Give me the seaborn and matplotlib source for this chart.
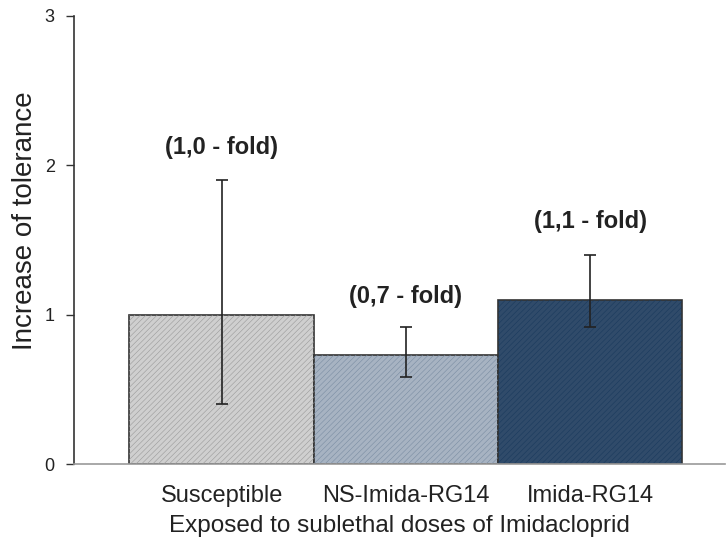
import numpy as np
import pandas as pd
import matplotlib.pyplot as plt
import seaborn as sns

groups = ["Susceptible", "NS-Imida-RG14", "Imida-RG14"]
tolerance = [1.0, 0.73, 1.10]
err_low = [0.40, 0.58, 0.92]
err_high = [1.90, 0.92, 1.40]
fold_labels = ["(1,0 - fold)", "(0,7 - fold)", "(1,1 - fold)"]
label_y = [2.12, 1.12, 1.62]
bar_colors = ["#cfcfcf", "#a3b3c6", "#264b74"]
hatch_colors = ["#9a9a9a", "#7a8da3", "#1a3a5e"]

sns.set_style("white")
plt.rcParams["font.family"] = ["Liberation Sans", "DejaVu Sans"]
plt.rcParams["hatch.linewidth"] = 0.4

df = pd.DataFrame({"group": groups, "tolerance": tolerance})

fig = plt.figure(figsize=(7.27, 5.44), dpi=100)
ax = fig.add_axes([0.102, 0.147, 0.895, 0.824])

sns.barplot(data=df, x="group", y="tolerance", hue="group", palette=bar_colors,
            width=1.0, edgecolor="#333333", linewidth=1.2, legend=False, ax=ax)

# fine diagonal texture on top of each bar
for patch, hc in zip(ax.patches, hatch_colors):
    x, y = patch.get_xy()
    ax.add_patch(plt.Rectangle((x, y), patch.get_width(), patch.get_height(),
                               fill=False, hatch="//////", edgecolor=hc,
                               linewidth=0, zorder=patch.get_zorder() + 0.1))

pos = np.arange(len(groups))
yerr = [np.array(tolerance) - np.array(err_low), np.array(err_high) - np.array(tolerance)]
ax.errorbar(pos, tolerance, yerr=yerr, fmt="none", ecolor="#222222",
            elinewidth=1.2, capsize=4, capthick=1.2, zorder=5)

for p, lab, ly in zip(pos, fold_labels, label_y):
    ax.text(p, ly, lab, ha="center", va="center", fontsize=17, fontweight="bold",
            color="#222222")

ax.set_xlim(-0.8, 2.73)
ax.set_ylim(0, 3)
ax.set_yticks([0, 1, 2, 3])
ax.set_yticklabels(["0", "1", "2", "3"])
ax.tick_params(axis="y", direction="out", length=6, width=1, labelsize=13,
               left=True, color="#333333", labelcolor="#222222", pad=8)
ax.tick_params(axis="x", length=0, labelsize=17, labelcolor="#222222", pad=15)

ax.set_xlabel("Exposed to sublethal doses of Imidacloprid", fontsize=17.5,
              color="#222222", labelpad=6)
ax.set_ylabel("Increase of tolerance", fontsize=20, color="#222222", labelpad=5,
              y=0.542)

sns.despine(ax=ax, top=True, right=True)
ax.spines["left"].set_color("#333333")
ax.spines["left"].set_linewidth(1.2)
ax.spines["bottom"].set_color("#999999")
ax.spines["bottom"].set_linewidth(1.2)

fig.savefig("out.png", dpi=100)
